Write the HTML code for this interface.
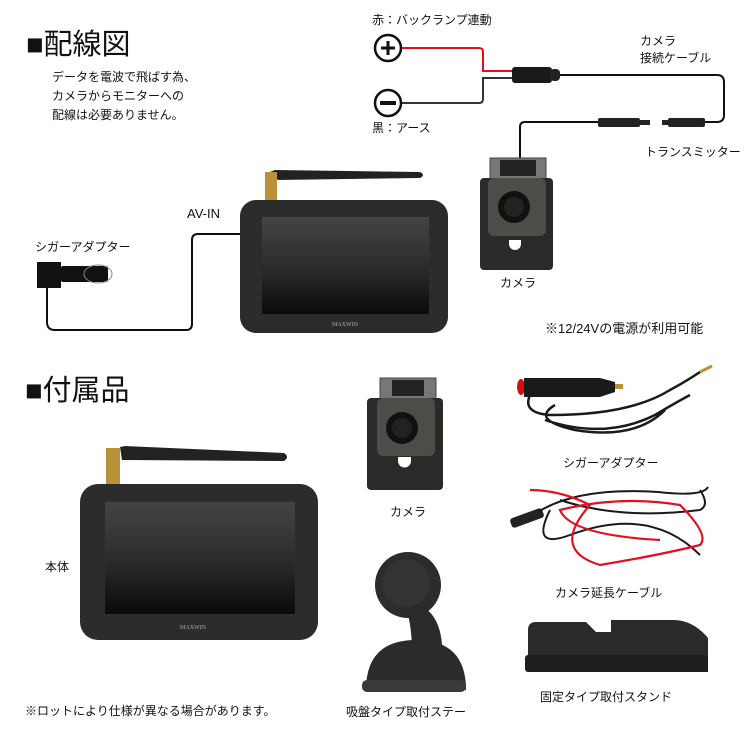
<!DOCTYPE html>
<html><head><meta charset="utf-8"><style>
body{margin:0;background:#fff}
#c{position:relative;width:750px;height:750px;overflow:hidden;font-family:"Liberation Sans","Noto Sans CJK JP",sans-serif;color:#111}
.t{position:absolute;white-space:nowrap;font-size:12px;line-height:1}
.h{position:absolute;font-size:29px;line-height:1;white-space:nowrap}
svg{position:absolute;left:0;top:0}
</style></head><body><div id="c">
<svg width="750" height="750" viewBox="0 0 750 750">
<defs>
<linearGradient id="scr" x1="0" y1="0" x2="0" y2="1"><stop offset="0" stop-color="#444"/><stop offset="0.55" stop-color="#2a2a2a"/><stop offset="1" stop-color="#0a0a0a"/></linearGradient>
</defs>
<circle cx="388" cy="48" r="13" fill="#fff" stroke="#111" stroke-width="2.5"/>
<path d="M381 48h14M388 41v14" stroke="#111" stroke-width="3"/>
<circle cx="388" cy="103" r="13" fill="#fff" stroke="#111" stroke-width="2.5"/>
<path d="M380 103h16" stroke="#111" stroke-width="4"/>
<path d="M402 48H479q4 0 4 4V71h30" fill="none" stroke="#e0101a" stroke-width="2"/>
<path d="M402 103H479q4 0 4-4V78h30" fill="none" stroke="#333" stroke-width="2"/>
<rect x="512" y="67" width="40" height="16" rx="3" fill="#1a1a1a"/><rect x="550" y="69" width="10" height="12" rx="4" fill="#222"/>
<path d="M560 75H717q7 0 7 7V115q0 7-7 7H705" fill="none" stroke="#111" stroke-width="2"/>
<rect x="668" y="118" width="37" height="9" rx="2" fill="#222"/><rect x="662" y="120" width="6" height="5" fill="#222"/>
<rect x="598" y="118" width="42" height="9" rx="2" fill="#222"/><rect x="640" y="120" width="10" height="5" fill="#222"/>
<path d="M598 122H525q-5 0-5 5V160" fill="none" stroke="#111" stroke-width="2"/>
<rect x="490" y="158" width="56" height="22" fill="#777" stroke="#444"/>
<rect x="500" y="160" width="36" height="16" fill="#222"/>
<rect x="480" y="178" width="73" height="92" rx="4" fill="#2a2a2a"/>
<rect x="488" y="178" width="58" height="58" rx="6" fill="#4a4d48"/>
<circle cx="514" cy="207" r="16" fill="#111"/><circle cx="514" cy="207" r="10" fill="#222"/>
<path d="M509 240h12v4a6 6 0 0 1-12 0z" fill="#fff"/>
<rect x="37" y="262" width="24" height="26" fill="#111"/>
<rect x="61" y="266" width="47" height="16" rx="2" fill="#111"/>
<ellipse cx="98" cy="274" rx="14" ry="9" fill="none" stroke="#888"/>
<path d="M47 288V322q0 8 8 8H186q6 0 6-6V240q0-6 6-6H243" fill="none" stroke="#111" stroke-width="2"/>
<path d="M270 172L275 170L420 172Q426 175 420 178L278 180Z" fill="#222"/>
<rect x="265" y="172" width="12" height="28" fill="#b9923a"/>
<rect x="240" y="200" width="208" height="133" rx="16" fill="#2c2c2c"/>
<rect x="262" y="217" width="167" height="97" fill="url(#scr)"/>
<text x="345" y="326" font-size="6" fill="#aaa" text-anchor="middle" font-family="Liberation Serif">MAXWIN</text>
<path d="M120 447L125 446L284 453Q290 457 284 461L122 460Z" fill="#222"/>
<rect x="106" y="448" width="14" height="37" fill="#b9923a"/>
<rect x="80" y="484" width="238" height="156" rx="18" fill="#2c2c2c"/>
<rect x="105" y="502" width="190" height="112" fill="url(#scr)"/>
<text x="193" y="629" font-size="6" fill="#aaa" text-anchor="middle" font-family="Liberation Serif">MAXWIN</text>
<rect x="380" y="378" width="56" height="22" fill="#777" stroke="#444"/>
<rect x="392" y="380" width="32" height="16" fill="#222"/>
<rect x="367" y="398" width="76" height="92" rx="4" fill="#2a2a2a"/>
<rect x="377" y="398" width="58" height="58" rx="6" fill="#4a4d48"/>
<circle cx="402" cy="428" r="16" fill="#111"/><circle cx="402" cy="428" r="10" fill="#222"/>
<path d="M398 457h13v4a6 6 0 0 1-13 0z" fill="#fff"/>
<ellipse cx="521" cy="387" rx="4" ry="8" fill="#d01010"/>
<path d="M524 378H600L615 382V392L600 397H524Z" fill="#1a1a1a"/>
<rect x="615" y="384" width="8" height="5" fill="#b9923a"/>
<path d="M530 395q-8 18 20 20q80 0 120-25q15-8 30-18M555 405q-25 15 20 25q60 10 90-20M545 420q60 20 110-5q20-12 35-20" fill="none" stroke="#1a1a1a" stroke-width="2.5"/>
<path d="M700 372l12-6" stroke="#b9923a" stroke-width="3"/>
<rect x="510" y="513" width="34" height="10" rx="3" fill="#222" transform="rotate(-20 527 518)"/>
<path d="M538 512q40-25 120-20q45 5 50-5M550 510q-20 40 20 25q80-30 130 20M560 500q60 20 140 10q10-5 0-20" fill="none" stroke="#1a1a1a" stroke-width="2"/>
<path d="M530 490q30 0 60 15q-40 45 10 60q60-10 100-20q10-10-20-40q-60-10-120 5q10 25 100 30" fill="none" stroke="#e01020" stroke-width="2.2"/>
<circle cx="408" cy="585" r="33" fill="#2c2c2c"/><circle cx="406" cy="583" r="24" fill="#333"/>
<path d="M420 605q20 10 22 40l-30 5q0-20 -5-40z" fill="#2a2a2a"/>
<path d="M366 690q0-50 50-50q50 0 50 50z" fill="#2b2b2b"/>
<rect x="362" y="680" width="104" height="12" rx="5" fill="#3a3a3a"/>
<path d="M528 630q0-8 8-8h50l10 10h15v-12h62q20 0 35 18v34l-180 0z" fill="#2a2a2a"/>
<rect x="525" y="655" width="183" height="17" rx="3" fill="#1e1e1e"/>
</svg>
<div class="h" style="left:26px;top:31px">■配線図</div>
<div class="t" style="left:52px;top:68px;line-height:19px">データを電波で飛ばす為、<br>カメラからモニターへの<br>配線は必要ありません。</div>
<div class="t" style="left:372px;top:14px">赤：バックランプ連動</div>
<div class="t" style="left:372px;top:122px">黒：アース</div>
<div class="t" style="left:640px;top:33px;line-height:17px">カメラ<br>接続ケーブル</div>
<div class="t" style="left:645px;top:146px">トランスミッター</div>
<div class="t" style="left:187px;top:207px;font-size:13px">AV-IN</div>
<div class="t" style="left:35px;top:241px">シガーアダプター</div>
<div class="t" style="left:500px;top:277px">カメラ</div>
<div class="t" style="left:545px;top:322px;font-size:13px">※12/24Vの電源が利用可能</div>
<div class="h" style="left:25px;top:377px">■付属品</div>
<div class="t" style="left:45px;top:561px">本体</div>
<div class="t" style="left:390px;top:506px">カメラ</div>
<div class="t" style="left:563px;top:457px">シガーアダプター</div>
<div class="t" style="left:555px;top:587px">カメラ延長ケーブル</div>
<div class="t" style="left:540px;top:691px">固定タイプ取付スタンド</div>
<div class="t" style="left:346px;top:706px">吸盤タイプ取付ステー</div>
<div class="t" style="left:25px;top:705px">※ロットにより仕様が異なる場合があります。</div>
</div></body></html>
